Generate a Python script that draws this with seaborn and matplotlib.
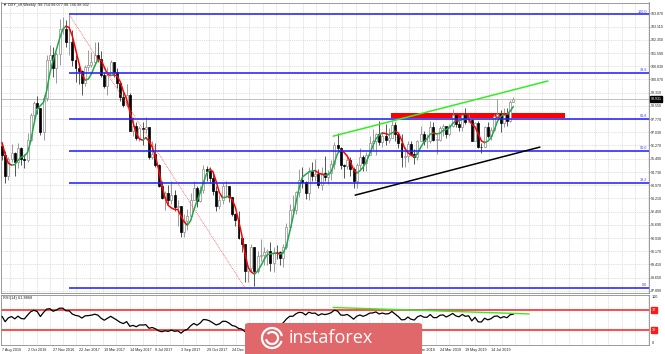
import numpy as np
import pandas as pd
import matplotlib
matplotlib.use("Agg")
import matplotlib.pyplot as plt
import matplotlib.transforms as mtransforms
from matplotlib.patches import Rectangle, FancyBboxPatch, Arc
import seaborn as sns

sns.set_style("white")
plt.rcParams['font.family'] = ['Liberation Sans', 'DejaVu Sans']

# ---------------- data (weekly DXY, 7 Aug 2016 .. 1 Sep 2019) ----------------
warmup_close = [94.03, 94.55, 94.18, 95.54, 95.62, 96.31, 96.58, 97.46, 95.53, 96.22]

close = [95.70, 94.50, 95.50, 95.85, 95.30, 96.10, 95.50, 95.40, 96.60, 98.00,
         98.70, 98.40, 97.05, 99.00, 101.20, 101.50, 100.70, 101.55, 102.95, 103.00,
         102.20, 102.20, 101.20, 100.75, 100.55, 99.85, 100.80, 100.90, 101.10, 101.50,
         101.25, 100.35, 99.70, 100.35, 101.10, 100.50, 99.85, 99.05, 98.60, 99.20,
         97.10, 97.40, 96.70, 97.25, 97.20, 97.30, 95.60, 95.80, 95.15, 93.90,
         93.25, 93.50, 93.10, 93.40, 92.70, 92.80, 91.30, 91.90, 92.20, 93.10,
         93.80, 93.05, 93.70, 94.90, 94.80, 94.40, 93.65, 92.80, 93.10, 93.90,
         93.90, 93.30, 92.30, 91.95, 90.95, 90.60, 89.00, 89.20, 90.40, 89.00,
         89.90, 89.95, 90.10, 90.20, 89.50, 90.15, 90.10, 89.80, 90.40, 91.55,
         92.55, 92.55, 93.60, 94.25, 94.15, 93.55, 94.80, 94.50, 94.60, 94.00,
         94.65, 94.45, 94.70, 95.20, 96.30, 96.10, 95.15, 95.10, 95.40, 94.90,
         94.20, 95.15, 95.60, 95.25, 95.70, 96.40, 96.50, 96.90, 96.45, 96.80,
         96.60, 96.70, 97.45, 96.95, 96.40, 95.60, 95.65, 96.35, 95.80, 95.60,
         96.50, 96.90, 96.50, 96.50, 97.30, 96.60, 96.60, 97.25, 97.40, 96.95,
         97.40, 98.00, 97.50, 97.30, 98.00, 97.60, 97.75, 96.55, 97.55, 96.20,
         96.15, 97.30, 96.80, 97.15, 97.95, 98.10, 97.55, 98.00, 97.70, 98.75,
         98.93]

high = [96.25, 95.95, 95.60, 96.35, 95.90, 96.40, 96.20, 95.80, 97.00, 98.15,
        98.80, 99.10, 98.45, 99.20, 101.50, 102.05, 101.95, 101.65, 103.56, 103.65,
        103.50, 103.82, 102.90, 101.50, 100.90, 100.60, 100.90, 101.75, 101.65, 102.25,
        102.25, 101.70, 100.50, 100.80, 101.20, 101.00, 100.70, 99.90, 99.40, 99.80,
        99.30, 97.90, 97.60, 97.40, 97.60, 97.90, 97.30, 96.50, 96.40, 95.20,
        94.20, 93.65, 94.00, 94.20, 93.70, 93.10, 92.80, 92.30, 92.60, 93.50,
        94.20, 93.90, 93.90, 95.15, 95.10, 95.00, 94.60, 93.90, 93.40, 94.10,
        94.20, 93.90, 93.30, 92.40, 92.50, 91.00, 90.60, 89.40, 90.60, 90.40,
        90.20, 90.90, 90.40, 90.30, 90.70, 90.40, 90.50, 90.20, 90.60, 91.80,
        92.90, 93.40, 93.65, 94.90, 95.00, 94.20, 95.05, 95.30, 95.50, 94.90,
        95.00, 95.65, 94.85, 95.40, 96.45, 96.98, 96.20, 95.20, 95.70, 95.60,
        95.00, 95.25, 96.10, 95.70, 95.90, 96.80, 97.20, 97.00, 97.70, 97.00,
        97.50, 97.25, 97.70, 97.60, 97.00, 96.90, 96.20, 96.50, 96.50, 96.05,
        96.60, 97.40, 97.10, 96.90, 97.70, 97.60, 96.90, 97.40, 97.50, 97.25,
        97.50, 98.35, 98.00, 97.70, 98.10, 98.40, 98.10, 97.80, 97.60, 97.70,
        96.40, 97.40, 97.60, 97.30, 98.10, 98.95, 98.30, 98.45, 98.40, 98.90,
        99.08]

low = [95.40, 94.10, 94.30, 95.30, 94.50, 94.95, 95.15, 94.95, 95.30, 96.50,
       97.60, 98.10, 96.85, 96.60, 98.80, 100.80, 100.20, 99.85, 100.90, 102.70,
       101.95, 101.50, 100.85, 99.90, 99.80, 99.20, 99.70, 100.55, 100.80, 100.90,
       101.05, 100.20, 99.60, 99.20, 100.40, 100.20, 99.60, 98.85, 98.50, 98.50,
       97.10, 96.80, 96.60, 96.50, 96.30, 97.00, 95.50, 95.50, 95.00, 93.85,
       93.20, 92.55, 92.90, 92.90, 92.50, 91.60, 91.00, 91.00, 91.40, 92.00,
       93.10, 92.70, 93.00, 93.50, 94.20, 94.10, 93.40, 92.50, 92.60, 92.90,
       93.30, 93.00, 92.20, 91.60, 90.90, 90.10, 88.40, 88.40, 89.00, 88.15,
       88.90, 89.60, 89.40, 89.40, 89.00, 88.95, 89.70, 89.40, 89.25, 90.30,
       91.40, 92.20, 92.30, 93.30, 93.80, 93.20, 93.10, 94.20, 94.20, 93.80,
       93.70, 94.20, 94.05, 94.30, 94.90, 95.90, 94.90, 94.40, 94.90, 94.50,
       93.80, 93.80, 94.90, 94.80, 94.80, 95.70, 96.00, 95.70, 96.30, 96.20,
       96.30, 96.40, 96.80, 96.50, 96.10, 95.00, 95.00, 95.30, 95.70, 95.20,
       95.40, 96.50, 96.30, 96.10, 96.40, 96.50, 95.75, 96.50, 96.80, 96.70,
       96.80, 97.30, 97.30, 97.10, 97.10, 97.50, 97.60, 96.50, 96.50, 96.10,
       95.85, 96.20, 96.70, 96.60, 97.10, 97.90, 97.05, 97.30, 97.40, 97.60,
       98.75]

date_labels = ["7 Aug 2016", "2 Oct 2016", "27 Nov 2016", "22 Jan 2017", "19 Mar 2017",
               "14 May 2017", "9 Jul 2017", "3 Sep 2017", "29 Oct 2017", "24 Dec 2017",
               "18 Feb 2018", "15 Apr 2018", "10 Jun 2018", "5 Aug 2018", "30 Sep 2018",
               "2 Dec 2018", "27 Jan 2019", "24 Mar 2019", "19 May 2019", "14 Jul 2019"]
date_label_weeks = [0, 8, 16, 24, 32, 40, 48, 56, 64, 72, 80, 88, 96, 104, 112, 121, 129, 137, 145, 153]

price_labels = [103.870, 103.110, 102.350, 101.590, 100.830, 100.070, 99.310, 98.550,
                97.770, 97.030, 96.270, 95.490, 94.730, 93.970, 93.210, 92.450, 91.690,
                90.930, 90.170, 89.410, 88.650, 87.890]

fib_high, fib_low = 103.82, 88.06
fib_start_week, fib_end_week = 21, 76
fib_ratios = [0.0, 38.2, 50.0, 61.8, 78.6, 100.0]

green_trend = ([103.6, 170.8], [96.80, 99.98])
black_trend = ([110.5, 168.3], [93.40, 96.17])
red_zone = (121.7, 176.2, 97.82, 98.15)
rsi_green = ([103.6, 164.9], [74.5, 61.7])
current_price = 98.931
header = "\u25bc DXY_c8,Weekly  98.754 99.077 98.746 98.932"
rsi_header = "RSI(14) 61.8868"

# ---------------- indicators ----------------
full = pd.Series(warmup_close + close, dtype=float)
nw = len(warmup_close)

def wma(s, n):
    w = np.arange(1, n + 1, dtype=float)
    return s.rolling(n, min_periods=1).apply(lambda x: np.dot(x, w[-len(x):]) / w[-len(x):].sum(), raw=True)

n_hma = 10
hma = wma(2 * wma(full, n_hma // 2) - wma(full, n_hma), int(np.sqrt(n_hma)))
ma = hma.values[nw:]

d = full.diff()
gain = d.clip(lower=0)
loss = -d.clip(upper=0)
ag = gain.ewm(alpha=1 / 14, adjust=True).mean()
al = loss.ewm(alpha=1 / 14, adjust=True).mean()
rsi = (100 - 100 / (1 + ag / al)).values[nw:]

close_a = np.array(close)
open_a = np.array(warmup_close[-1:] + close[:-1])
high_a = np.array(high)
low_a = np.array(low)
weeks = np.arange(len(close))

# ---------------- figure ----------------
W, H = 665, 354
fig = plt.figure(figsize=(W / 100, H / 100), dpi=100)
fig.patch.set_facecolor("white")

def fx(x):
    return x / W

def fy(y):
    return 1 - y / H

ax = fig.add_axes([fx(1), fy(293), 648 / W, (293 - 2.5) / H])
ax2 = fig.add_axes([fx(1), fy(345), 648 / W, (345 - 294.5) / H])

px_per_week = 3.196
x0_px = 2.0
xlim = ((1 - x0_px) / px_per_week, (649 - x0_px) / px_per_week)
for a in (ax, ax2):
    a.set_xlim(*xlim)
    a.set_facecolor("white")
    for sp in a.spines.values():
        sp.set_color("#8a8a8a")
        sp.set_linewidth(0.6)
    for gx in np.arange(9.9, 649, 13.3):
        a.axvline((gx - x0_px) / px_per_week, color="#c9c9c9", lw=0.45, ls=(0, (1.5, 1.5)), zorder=0)

ylim = (103.87 - (293 - 13.5) / 17.35, 103.87 + (13.5 - 2.5) / 17.35)
ax.set_ylim(*ylim)
for p in price_labels:
    ax.axhline(p, color="#c9c9c9", lw=0.45, ls=(0, (1.5, 1.5)), zorder=0)

# red zone (background object)
ax.add_patch(Rectangle((red_zone[0], red_zone[2]), red_zone[1] - red_zone[0], red_zone[3] - red_zone[2],
                       facecolor="#ff0000", edgecolor="none", zorder=1))

# bid line
ax.axhline(current_price, color="#c0c0c0", lw=0.7, zorder=1)

# candles
bull = close_a >= open_a
ax.vlines(weeks[bull], low_a[bull], high_a[bull], color="#8c8c8c", lw=0.6, zorder=2)
ax.vlines(weeks[~bull], low_a[~bull], high_a[~bull], color="#3a3a3a", lw=0.6, zorder=2)
body_lo = np.minimum(open_a, close_a)
body_h = np.maximum(np.abs(close_a - open_a), 0.03)
ax.bar(weeks[bull], body_h[bull], bottom=body_lo[bull], width=0.62, color="white",
       edgecolor="#8c8c8c", linewidth=0.5, zorder=3)
ax.bar(weeks[~bull], body_h[~bull], bottom=body_lo[~bull], width=0.62, color="black",
       edgecolor="black", linewidth=0.5, zorder=3)

# coloured HMA line
up = np.r_[ma[1] >= ma[0], ma[1:] >= ma[:-1]]
start = 0
for i in range(1, len(ma) + 1):
    if i == len(ma) or up[i] != up[start]:
        seg = slice(max(start - 1, 0), i)
        ax.plot(weeks[seg], ma[seg], color="#22a84a" if up[start] else "#ff0000",
                lw=1.1, solid_capstyle="round", zorder=5)
        start = i

# fibonacci object
for r in fib_ratios:
    lvl = fib_low + r / 100 * (fib_high - fib_low)
    ax.hlines(lvl, fib_start_week, xlim[1], color="#2323ff", lw=1.15, zorder=6)
    ax.text(xlim[1] - 0.6, lvl + 0.05, f"{r:.1f}", color="#3b3bff", fontsize=2.7,
            ha="right", va="bottom", zorder=7)
ax.plot([fib_start_week, fib_end_week], [fib_high, fib_low], color="#ff4040", lw=0.5,
        ls=(0, (1.2, 1.2)), zorder=6)

# trend lines
ax.plot(*green_trend, color="#33ee22", lw=1.1, zorder=6)
ax.plot(*black_trend, color="black", lw=1.1, zorder=6)

# price axis
ax.yaxis.tick_right()
ax.set_yticks(price_labels)
ax.set_yticklabels([f"{p:.3f}" for p in price_labels])
ax.tick_params(axis="y", length=1.0, width=0.4, pad=0.5, labelsize=2.6, colors="#222222")
ax.set_xticks([])
ax.text(1.0025, current_price, f"{current_price:.3f}",
        transform=mtransforms.blended_transform_factory(ax.transAxes, ax.transData),
        fontsize=2.6, color="white", ha="left", va="center",
        bbox=dict(boxstyle="square,pad=0.2", facecolor="black", edgecolor="black"), zorder=8)

# ---------------- RSI panel ----------------
ax2.set_ylim(-0.5, 100.5)
for lv in (70, 30):
    ax2.axhline(lv, color="#ff1a1a", lw=1.1, zorder=2)
rsi_df = pd.DataFrame({"week": weeks, "rsi": rsi})
sns.lineplot(data=rsi_df, x="week", y="rsi", ax=ax2, color="black", lw=0.9, zorder=4)
ax2.plot(*rsi_green, color="#33ee22", lw=1.0, zorder=5)
ax2.set_xlabel("")
ax2.set_ylabel("")
ax2.yaxis.tick_right()
ax2.set_yticks([])
bt = mtransforms.blended_transform_factory(ax2.transAxes, ax2.transData)
ax2.text(1.004, 96, "100", transform=bt, fontsize=2.7, color="#222222", ha="left", va="center")
ax2.text(1.004, 4, "0", transform=bt, fontsize=2.7, color="#222222", ha="left", va="center")
for lv in (70, 30):
    ax2.text(1.004, lv, str(lv), transform=bt, fontsize=2.7, color="white", ha="left", va="center",
             bbox=dict(boxstyle="square,pad=0.25", facecolor="#ff1a1a", edgecolor="#ff1a1a"))
ax2.set_xticks(date_label_weeks)
ax2.set_xticklabels(date_labels, ha="left")
ax2.tick_params(axis="x", length=1.5, width=0.4, pad=0.8, labelsize=2.7, colors="#222222")

# headers
fig.text(fx(3), fy(5), header, fontsize=2.8, color="#222222", ha="left", va="center")
fig.text(fx(3), fy(298), rsi_header, fontsize=2.8, color="#222222", ha="left", va="center")

# ---------------- watermark ----------------
logo = FancyBboxPatch((fx(245), fy(356)), fx(422) - fx(245), fy(323) - fy(356),
                      boxstyle="round,pad=0,rounding_size=0.006", transform=fig.transFigure,
                      facecolor="#e0686a", edgecolor="none", zorder=20)
fig.add_artist(logo)
for r_px, a1, a2 in [(10, 20, 330), (6, 200, 480)]:
    arc = Arc((fx(272), fy(338)), 2 * r_px / W, 2 * r_px / H, theta1=a1, theta2=a2,
              transform=fig.transFigure, color="white", lw=1.6, zorder=21)
    fig.add_artist(arc)
fig.text(fx(289), fy(338), "instaforex", fontsize=13, color="white", ha="left", va="center",
         family=["Open Sans", "DejaVu Sans"], zorder=22)

fig.savefig("out.png", dpi=100, facecolor="white")
